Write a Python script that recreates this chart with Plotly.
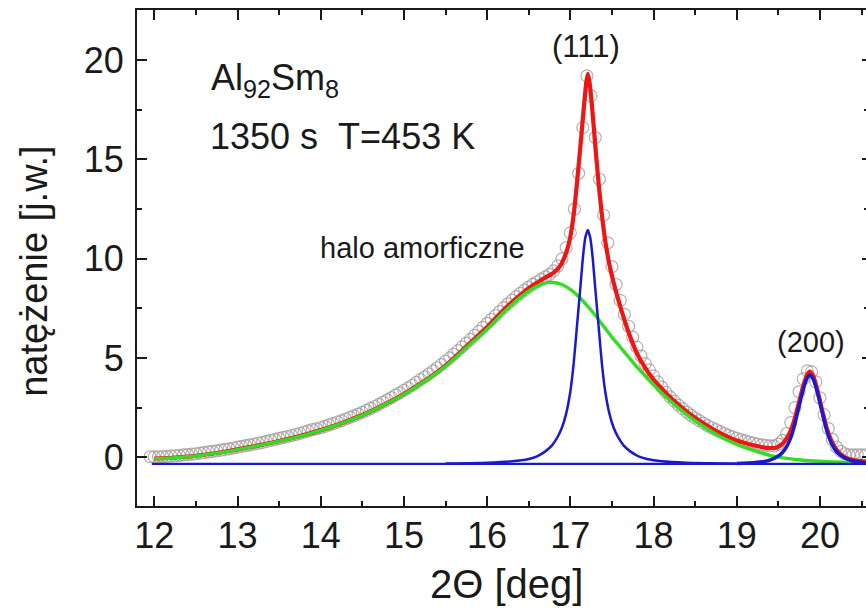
import plotly.graph_objects as go

# ---------------- data ----------------
# measured points (open circles), sampled every 0.05 deg starting at 11.95
data_x_start = 11.95
data_x_step = 0.05
data_y = [
    0.03, 0.02, 0.03, 0.04, 0.05, 0.07, 0.08, 0.10, 0.12, 0.14,        # 11.95-12.40
    0.16, 0.18, 0.21, 0.24, 0.27, 0.30, 0.33, 0.36, 0.40, 0.43,        # 12.45-12.90
    0.47, 0.51, 0.55, 0.59, 0.63, 0.67, 0.71, 0.75, 0.80, 0.85,        # 12.95-13.40
    0.90, 0.95, 1.00, 1.05, 1.10, 1.15, 1.21, 1.27, 1.33, 1.39,        # 13.45-13.90
    1.44, 1.49, 1.56, 1.63, 1.70, 1.78, 1.85, 1.93, 2.01, 2.09,        # 13.95-14.40
    2.18, 2.26, 2.36, 2.46, 2.56, 2.67, 2.78, 2.89, 3.01, 3.13,        # 14.45-14.90
    3.25, 3.37, 3.50, 3.63, 3.77, 3.91, 4.05, 4.20, 4.35, 4.51,        # 14.95-15.40
    4.67, 4.84, 5.01, 5.19, 5.37, 5.56, 5.75, 5.94, 6.14, 6.34,        # 15.45-15.90
    6.54, 6.74, 6.94, 7.14, 7.34, 7.54, 7.73, 7.91, 8.09, 8.26,        # 15.95-16.40
    8.42, 8.57, 8.71, 8.84, 8.96, 9.08, 9.21, 9.39, 9.64, 9.99,        # 16.45-16.90
    10.55, 11.30, 12.50, 14.30, 16.60, 19.20, 18.20, 16.10, 14.00, 12.20,  # 16.95-17.40
    10.80, 9.60, 8.70, 7.90, 7.20, 6.60, 6.05, 5.55, 5.10, 4.72,       # 17.45-17.90
    4.40, 4.10, 3.80, 3.53, 3.27, 3.04, 2.83, 2.63, 2.45, 2.28,        # 17.95-18.40
    2.12, 1.98, 1.85, 1.72, 1.60, 1.49, 1.39, 1.29, 1.20, 1.11,        # 18.45-18.90
    1.03, 0.96, 0.89, 0.83, 0.77, 0.72, 0.67, 0.63, 0.60, 0.58,        # 18.95-19.40
    0.58, 0.66, 0.85, 1.20, 1.75, 2.50, 3.30, 3.95, 4.35, 4.30,        # 19.45-19.90
    3.80, 3.00, 2.15, 1.45, 0.90, 0.52, 0.30, 0.18, 0.13, 0.12,        # 19.95-20.40
    0.12, 0.12, 0.12,                                                  # 20.45-20.55
]
data_x = [round(data_x_start + data_x_step * i, 2) for i in range(len(data_y))]

# total fit (red)
fit_x = [12.0, 12.25, 12.5, 12.75, 13.0, 13.25, 13.5, 13.75, 14.0, 14.25,
         14.5, 14.75, 15.0, 15.25, 15.5, 15.75, 16.0, 16.2, 16.4, 16.55,
         16.7, 16.8, 16.88, 16.95, 17.0, 17.04, 17.08, 17.12, 17.16, 17.19,
         17.21, 17.23, 17.26, 17.30, 17.34, 17.38, 17.42, 17.47, 17.52, 17.6,
         17.7, 17.8, 17.9, 18.0, 18.1, 18.2, 18.3, 18.4, 18.5, 18.6,
         18.7, 18.8, 18.9, 19.0, 19.1, 19.2, 19.3, 19.4, 19.48, 19.55,
         19.62, 19.68, 19.72, 19.76, 19.8, 19.84, 19.88, 19.92, 19.96, 20.0,
         20.04, 20.08, 20.14, 20.2, 20.28, 20.36, 20.45, 20.55]
fit_y = [-0.07, -0.01, 0.08, 0.22, 0.40, 0.60, 0.82, 1.07, 1.37, 1.72,
         2.13, 2.63, 3.19, 3.85, 4.62, 5.58, 6.56, 7.43, 8.18, 8.66,
         9.05, 9.3, 9.65, 10.3, 11.1, 12.2, 13.8, 15.6, 17.5, 18.8,
         19.3, 18.9, 17.7, 15.7, 13.8, 12.2, 10.9, 9.7, 8.8, 7.6,
         6.3, 5.25, 4.5, 3.92, 3.45, 3.03, 2.65, 2.3, 1.99, 1.71,
         1.45, 1.22, 1.02, 0.85, 0.72, 0.61, 0.52, 0.47, 0.5, 0.68,
         1.1, 1.7, 2.3, 2.95, 3.6, 4.1, 4.32, 4.1, 3.55, 2.85,
         2.15, 1.5, 0.82, 0.38, 0.05, -0.1, -0.17, -0.21]

# amorphous halo (green)
halo_x = [12.0, 12.25, 12.5, 12.75, 13.0, 13.25, 13.5, 13.75, 14.0, 14.25,
          14.5, 14.75, 15.0, 15.25, 15.5, 15.75, 16.0, 16.2, 16.4, 16.55,
          16.7, 16.8, 16.9, 17.0, 17.1, 17.2, 17.3, 17.4, 17.5, 17.6,
          17.7, 17.8, 17.9, 18.0, 18.2, 18.4, 18.6, 18.8, 19.0, 19.2,
          19.4, 19.6, 19.8, 20.0, 20.3, 20.55]
halo_y = [-0.08, -0.02, 0.07, 0.21, 0.39, 0.59, 0.81, 1.06, 1.36, 1.71,
          2.12, 2.62, 3.17, 3.83, 4.58, 5.52, 6.45, 7.3, 8.05, 8.5,
          8.78, 8.8, 8.7, 8.45, 8.1, 7.65, 7.15, 6.6, 6.05, 5.55,
          5.05, 4.55, 4.1, 3.65, 2.85, 2.15, 1.55, 1.05, 0.65, 0.35,
          0.1, -0.05, -0.15, -0.2, -0.25, -0.28]

# crystalline peak (111) (blue)
p111_x = [15.5, 16.0, 16.3, 16.5, 16.6, 16.7, 16.78, 16.85, 16.9, 16.95,
          17.0, 17.04, 17.08, 17.12, 17.15, 17.18, 17.21, 17.24, 17.27, 17.30,
          17.34, 17.38, 17.42, 17.47, 17.52, 17.57, 17.64, 17.72, 17.82, 17.92,
          18.1, 18.4, 19.0]
p111_y = [-0.31, -0.27, -0.2, -0.08, 0.05, 0.3, 0.6, 1.05, 1.5, 2.2,
          3.3, 4.7, 6.6, 8.5, 10.0, 11.05, 11.45, 11.05, 10.0, 8.5,
          6.6, 4.7, 3.3, 2.2, 1.5, 1.05, 0.6, 0.3, 0.05, -0.08,
          -0.2, -0.27, -0.31]

# crystalline peak (200) (blue)
p200_x = [19.0, 19.2, 19.35, 19.45, 19.52, 19.58, 19.62, 19.66, 19.7, 19.74,
          19.78, 19.82, 19.85, 19.88, 19.91, 19.94, 19.98, 20.02, 20.06, 20.1,
          20.14, 20.18, 20.24, 20.31, 20.41, 20.55]
p200_y = [-0.31, -0.27, -0.2, -0.05, 0.12, 0.4, 0.7, 1.1, 1.7, 2.4,
          3.1, 3.7, 4.02, 4.14, 4.02, 3.7, 3.1, 2.4, 1.7, 1.1,
          0.7, 0.4, 0.12, -0.05, -0.2, -0.27]

# background (blue horizontal line)
bg_x = [11.97, 20.56]
bg_y = [-0.33, -0.33]

x_ticks = [12, 13, 14, 15, 16, 17, 18, 19, 20]
y_ticks = [0, 5, 10, 15, 20]

# ---------------- figure ----------------
FONT = "Liberation Sans, Arial, Helvetica, sans-serif"
INK = "#1a1a1a"

fig = go.Figure()
fig.add_trace(go.Scatter(
    x=data_x, y=data_y, mode="markers",
    marker=dict(symbol="circle-open", size=12, color="rgba(160,150,150,0.75)",
                line=dict(width=1.2)),
    showlegend=False, hoverinfo="skip"))
fig.add_trace(go.Scatter(
    x=fit_x, y=fit_y, mode="lines",
    line=dict(color="#ee1515", width=4.2, shape="spline", smoothing=0.5),
    showlegend=False))
fig.add_trace(go.Scatter(
    x=halo_x, y=halo_y, mode="lines",
    line=dict(color="#33dd22", width=3.4, shape="spline", smoothing=0.6),
    showlegend=False))
fig.add_trace(go.Scatter(
    x=bg_x, y=bg_y, mode="lines",
    line=dict(color="#1a1acc", width=2.2), showlegend=False))
fig.add_trace(go.Scatter(
    x=p111_x, y=p111_y, mode="lines",
    line=dict(color="#1a1acc", width=2.5, shape="spline", smoothing=0.5),
    showlegend=False))
fig.add_trace(go.Scatter(
    x=p200_x, y=p200_y, mode="lines",
    line=dict(color="#1a1acc", width=3.5, shape="spline", smoothing=0.5),
    showlegend=False))
# invisible trace on right y axis (for the right-side ticks)
fig.add_trace(go.Scatter(x=[12], y=[0], yaxis="y2", mode="markers",
                         marker=dict(opacity=0), showlegend=False,
                         hoverinfo="skip"))

fig.update_layout(
    width=866, height=610,
    margin=dict(l=137, r=0, t=10, b=104),
    paper_bgcolor="white", plot_bgcolor="white",
    font=dict(family=FONT, color=INK),
    xaxis=dict(
        range=[11.792, 20.554], tickvals=x_ticks,
        ticks="inside", ticklen=10, tickwidth=1.8, tickcolor=INK,
        minor=dict(dtick=0.5, tick0=0, ticks="inside", ticklen=5,
                   tickwidth=1.5, tickcolor=INK),
        showline=True, linecolor=INK, linewidth=1.8, mirror="ticks",
        showgrid=False, zeroline=False,
        tickfont=dict(size=36, family=FONT, color=INK),
        ticklabelstandoff=-3,
    ),
    yaxis=dict(
        range=[-2.45, 22.52], tickvals=y_ticks,
        ticks="inside", ticklen=10, tickwidth=1.8, tickcolor=INK,
        minor=dict(dtick=2.5, tick0=0, ticks="inside", ticklen=5,
                   tickwidth=1.5, tickcolor=INK),
        showline=True, linecolor=INK, linewidth=1.8, mirror=False,
        showgrid=False, zeroline=False,
        tickfont=dict(size=36, family=FONT, color=INK),
        ticklabelstandoff=4,
    ),
    yaxis2=dict(
        range=[-2.45, 22.52], tickvals=y_ticks, overlaying="y", side="right",
        ticks="inside", ticklen=4, tickwidth=1.8, tickcolor=INK,
        minor=dict(dtick=2.5, tick0=0, ticks="inside", ticklen=2,
                   tickwidth=1.5, tickcolor=INK),
        showticklabels=False, showline=False, showgrid=False, zeroline=False,
    ),
)

def ann(text, x, y, size, xanchor="center", yanchor="middle", angle=0):
    fig.add_annotation(text=text, x=x, y=y, xref="paper", yref="paper",
                       xanchor=xanchor, yanchor=yanchor, showarrow=False,
                       textangle=angle,
                       font=dict(size=size, family=FONT, color=INK))

ann("Al<sub>92</sub>Sm<sub>8</sub>", 0.099, 0.858, 36, xanchor="left")
ann("1350 s\u00a0\u00a0T=453 K", 0.097, 0.744, 36, xanchor="left")
ann("(111)", 0.616, 0.927, 31)
ann("(200)", 0.9246, 0.331, 29)
ann("halo amorficzne", 0.3916, 0.5195, 29)
ann("2\u0398 [deg]", 0.5069, -0.158, 40)
ann("nat\u0119\u017cenie [j.w.]", -0.1416, 0.4738, 38, angle=-90)

fig.write_html("out.html")
